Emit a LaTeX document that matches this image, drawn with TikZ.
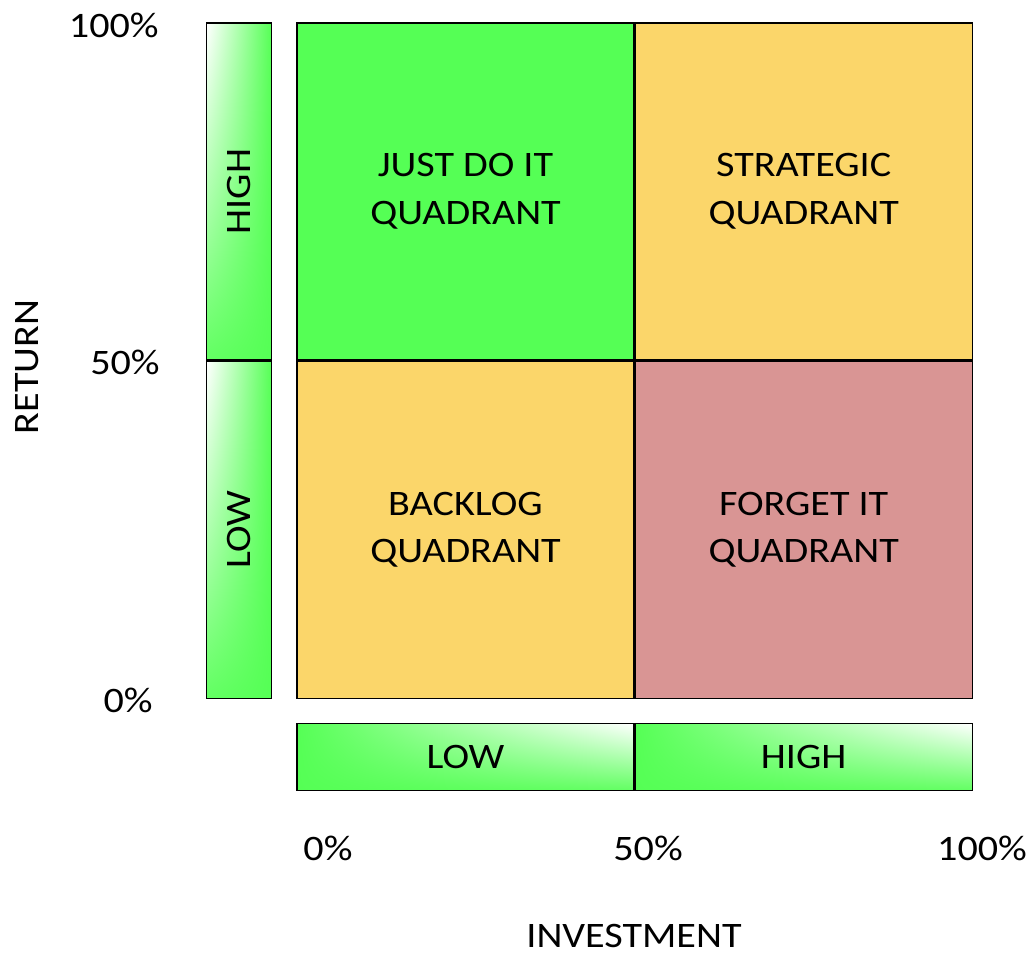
\documentclass[tikz,border=0pt]{standalone}
\usepackage{fontspec}
\setmainfont{Carlito}[FakeStretch=1.12]
\usetikzlibrary{positioning,shadings}
\definecolor{quadgreen}{RGB}{85,255,85}
\definecolor{quadyellow}{RGB}{251,214,106}
\definecolor{quadred}{RGB}{217,149,148}
\tikzset{
  lbl/.style={font=\fontsize{20.4}{27.2}\selectfont, inner sep=0pt},
  quad/.style={lbl, draw, line width=0.7pt, minimum width=6.74cm, minimum height=6.74cm, align=center},
  hbar/.style={lbl, draw, line width=0.7pt, minimum width=6.74cm, minimum height=1.34cm,
    shade, upper right=white, upper left=quadgreen, lower left=quadgreen, lower right=quadgreen!92!white},
  vbar/.style={lbl, draw, line width=0.7pt, minimum width=1.3cm, minimum height=6.74cm,
    shade, upper left=white, upper right=quadgreen, lower left=quadgreen!92!white, lower right=quadgreen}
}
\begin{document}
\begin{tikzpicture}[x=0.02cm, y=-0.02cm]
  \useasboundingbox (0,0) rectangle (1034,956);
  % quadrants
  \node[quad, fill=quadgreen] (jdi) at (465.5,191.5) {JUST DO IT\\QUADRANT};
  \node[quad, fill=quadyellow, right=0pt of jdi] (strat) {STRATEGIC\\QUADRANT};
  \node[quad, fill=quadyellow, below=0pt of jdi] (backlog) {BACKLOG\\QUADRANT};
  \node[quad, fill=quadred, right=0pt of backlog] (forget) {FORGET IT\\QUADRANT};
  % return bar
  \node[vbar, left=0.48cm of jdi] (rhigh) {};
  \node[rotate=90, lbl] at (rhigh) {HIGH};
  \node[vbar, left=0.48cm of backlog] (rlow) {};
  \node[rotate=90, lbl] at (rlow) {LOW};
  % investment bar
  \node[hbar, below=0.48cm of backlog] (ilow) {LOW};
  \node[hbar, right=0pt of ilow] (ihigh) {HIGH};
  % scale
  \node[lbl, anchor=east] (r100) at (159,25) {100\%};
  \node[lbl, anchor=east] (r50) at (160,362) {50\%};
  \node[lbl, anchor=east] (r0) at (153,700) {0\%};
  \node[lbl] (i0) at (328,848) {0\%};
  \node[lbl] (i50) at (648,848) {50\%};
  \node[lbl] (i100) at (982,848) {100\%};
  % axis titles
  \node[lbl, rotate=90] (ret) at (27,367) {RETURN};
  \node[lbl] (inv) at (634,936) {INVESTMENT};
\end{tikzpicture}
\end{document}
